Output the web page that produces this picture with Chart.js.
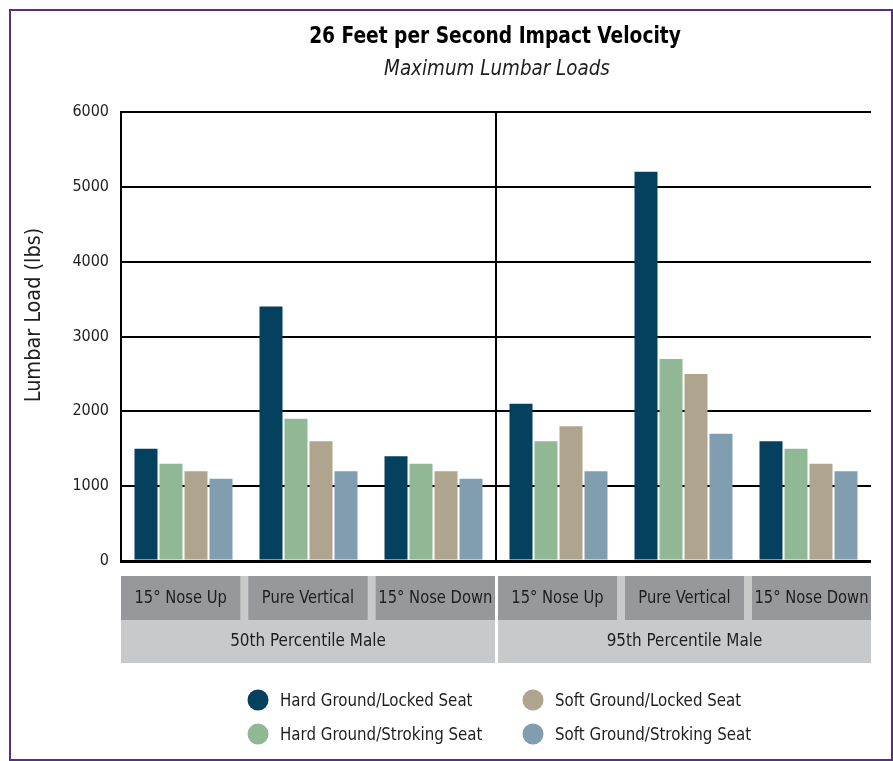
<!DOCTYPE html>
<html>
<head>
<meta charset="utf-8">
<script src="https://cdn.jsdelivr.net/npm/chart.js@4.4.1/dist/chart.umd.min.js"></script>
<style>
  html, body { margin: 0; padding: 0; background: #fff; }
  #wrap { position: relative; width: 893px; height: 761px; }
</style>
</head>
<body>
<div id="wrap"><canvas id="chart"></canvas></div>
<script>
// data
const categories = ["15° Nose Up", "Pure Vertical", "15° Nose Down", "15° Nose Up", "Pure Vertical", "15° Nose Down"];
const groups = ["50th Percentile Male", "95th Percentile Male"];
const seriesNames = ["Hard Ground/Locked Seat", "Hard Ground/Stroking Seat", "Soft Ground/Locked Seat", "Soft Ground/Stroking Seat"];
const hardLocked = [1500, 3400, 1400, 2100, 5200, 1600];
const hardStroking = [1300, 1900, 1300, 1600, 2700, 1500];
const softLocked = [1200, 1600, 1200, 1800, 2500, 1300];
const softStroking = [1100, 1200, 1100, 1200, 1700, 1200];
const yTicks = [0, 1000, 2000, 3000, 4000, 5000, 6000];

const colors = ["#03415f", "#91b894", "#afa48e", "#809eb0"];
const FONT = "'DejaVu Sans Condensed', 'DejaVu Sans', sans-serif";
const TEXT = "#1e1e1e";

// the original uses a narrow face; squeeze the condensed font a bit more
function narrowText(c, text, x, y, sx) {
  c.save();
  c.translate(x, y);
  c.scale(sx, 1);
  c.fillText(text, 0, 0);
  c.restore();
}

// everything that isn't a bar: frame, titles, category boxes, legend
const decor = {
  id: "decor",
  beforeDraw(chart) {
    const c = chart.ctx;
    c.save();
    c.fillStyle = "#fff";
    c.fillRect(0, 0, chart.width, chart.height);
    c.restore();
  },
  afterDraw(chart) {
    const c = chart.ctx;
    const x = chart.scales.x;
    c.save();

    // purple frame
    c.strokeStyle = "#5c2d86";
    c.lineWidth = 2;
    c.strokeRect(10, 10, chart.width - 11, chart.height - 11);

    // titles
    c.fillStyle = "#000";
    c.textAlign = "center";
    c.textBaseline = "middle";
    c.font = "bold 23px " + FONT;
    narrowText(c, "26 Feet per Second Impact Velocity", 495, 37, 0.9);
    c.font = "italic 21px " + FONT;
    c.fillStyle = TEXT;
    narrowText(c, "Maximum Lumbar Loads", 497, 70, 0.97);

    // y axis title
    c.save();
    c.translate(35, 315);
    c.rotate(-Math.PI / 2);
    c.font = "21px " + FONT;
    narrowText(c, "Lumbar Load (lbs)", 0, 0, 1.02);
    c.restore();

    // category boxes
    const catW = x.getPixelForValue(1) - x.getPixelForValue(0);
    const top = 576, mid = 620, bottom = 663, gap = 8;
    c.font = "18px " + FONT;
    groups.forEach((g, gi) => {
      const left = x.getPixelForValue(gi * 3) - catW / 2 + (gi ? 2 : 0);
      const right = x.getPixelForValue(gi * 3 + 2) + catW / 2 - (gi ? 0 : 1);
      c.fillStyle = "#c8c9cb";
      c.fillRect(left, top, right - left, bottom - top);
      const bw = (right - left - 2 * gap) / 3;
      for (let j = 0; j < 3; j++) {
        const bx = left + j * (bw + gap);
        c.fillStyle = "#97989c";
        c.fillRect(bx, top, bw, mid - top);
        c.fillStyle = TEXT;
        narrowText(c, categories[gi * 3 + j], bx + bw / 2, 598, 0.91);
      }
      c.fillStyle = TEXT;
      narrowText(c, g, (left + right) / 2, 641, 0.94);
    });

    // legend, two columns
    const spots = [[258, 700], [258, 734], [533, 700], [533, 734]];
    c.textAlign = "left";
    c.font = "18px " + FONT;
    seriesNames.forEach((name, i) => {
      const [cx, cy] = spots[i];
      c.fillStyle = colors[i];
      c.beginPath();
      c.arc(cx, cy, 10.5, 0, Math.PI * 2);
      c.fill();
      c.fillStyle = TEXT;
      narrowText(c, name, cx + 22, cy + 1, 0.93);
    });

    c.restore();
  }
};

new Chart(document.getElementById("chart"), {
  type: "bar",
  data: {
    labels: categories,
    datasets: [hardLocked, hardStroking, softLocked, softStroking].map((vals, i) => ({
      label: seriesNames[i],
      data: vals,
      backgroundColor: colors[i],
      borderWidth: 0,
      categoryPercentage: 0.8,
      barPercentage: 0.92
    }))
  },
  options: {
    responsive: true,
    maintainAspectRatio: false,
    animation: false,
    layout: { padding: { top: 112, bottom: 200, right: 22, left: 0 } },
    plugins: {
      legend: { display: false },
      title: { display: false },
      tooltip: { enabled: false }
    },
    scales: {
      x: {
        ticks: { display: false },
        border: { display: false },
        grid: {
          drawTicks: false,
          lineWidth: 2,
          color: (ctx) => (ctx.index === 3 ? "#000" : "rgba(0,0,0,0)")
        },
        afterFit: (s) => { s.height = 0; }
      },
      y: {
        min: 0,
        max: 6000,
        afterBuildTicks: (s) => { s.ticks = yTicks.map((v) => ({ value: v })); },
        ticks: {
          padding: 12,
          color: TEXT,
          font: { family: FONT, size: 16 },
          callback: (v) => String(v)
        },
        border: { display: true, color: "#000", width: 2 },
        grid: {
          drawTicks: false,
          color: "#000",
          lineWidth: (ctx) => (ctx.tick && ctx.tick.value === 0 ? 3 : 2)
        },
        afterFit: (s) => { s.width = 121; }
      }
    }
  },
  plugins: [decor]
});
</script>
</body>
</html>
